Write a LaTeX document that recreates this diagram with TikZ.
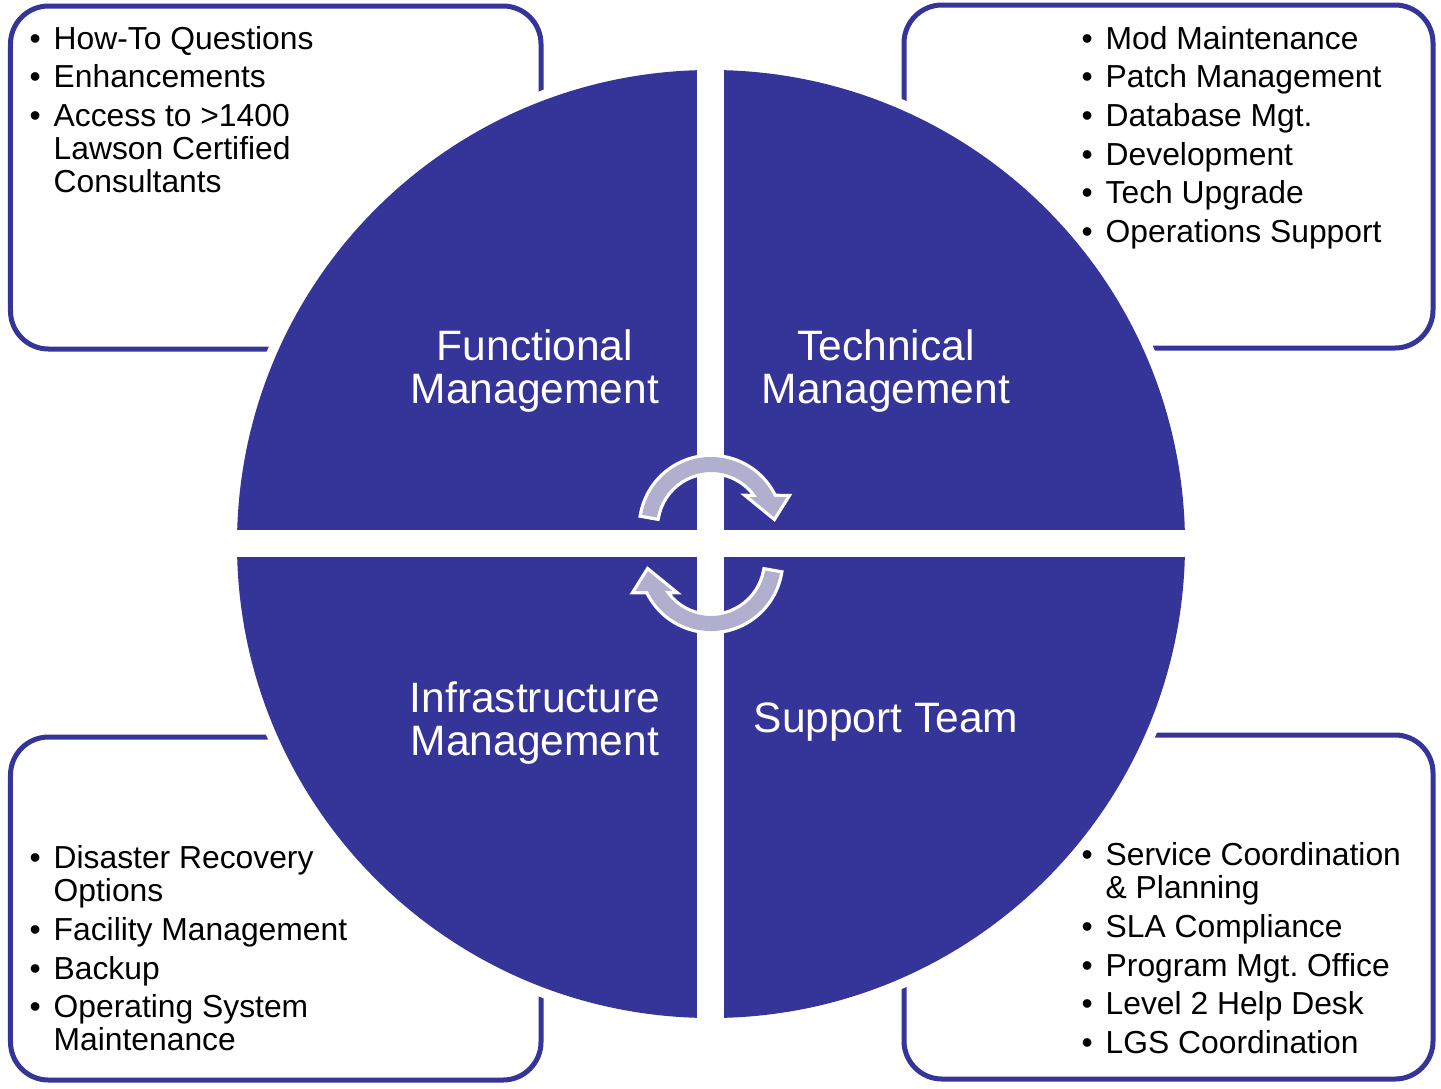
\documentclass[tikz,border=0pt]{standalone}
\usepackage{fontspec}
\setmainfont{Liberation Sans}
\usetikzlibrary{calc}

\definecolor{qblue}{RGB}{52,52,153}
\definecolor{qarrow}{RGB}{176,176,206}

\newcommand{\bl}{\makebox[0.24cm][l]{\textbullet}}
\newcommand{\nb}{\hspace*{0.24cm}}
\frenchspacing

\tikzset{
  listbox/.style={draw=qblue, line width=0.05cm, rounded corners=0.38cm},
  bullets/.style={anchor=north west, inner sep=0pt, align=left,
    font=\fontsize{9.05pt}{9.4pt}\selectfont},
  quadlabel/.style={text=white, inner sep=0pt, align=center,
    font=\fontsize{12.1pt}{12.5pt}\selectfont},
  turn/.style={fill=qarrow, preaction={draw=white, line width=0.065cm}}
}

\begin{document}
\begin{tikzpicture}
  \useasboundingbox (0,0) rectangle (14.41,-10.88);

  % riquadri
  \draw[listbox] (0.105,-0.06) rectangle (5.41,-3.49);
  \draw[listbox] (9.04,-0.05) rectangle (14.33,-3.48);
  \draw[listbox] (0.105,-7.37) rectangle (5.41,-10.80);
  \draw[listbox] (9.04,-7.35) rectangle (14.33,-10.79);

  % disco
  \fill[white] (7.11,-5.44) circle (4.84);
  \fill[qblue] (7.11,-5.44) circle (4.74);

  % bande bianche
  \fill[white] (6.97,-0.4) rectangle (7.24,-10.5);
  \fill[white] (2.2,-5.30) rectangle (12.0,-5.57);

  % quadranti
  \node[quadlabel] (func) at (5.35,-3.71) {Functional\\Management};
  \node[quadlabel] (tech) at (8.86,-3.71) {Technical\\Management};
  \node[quadlabel] (infra) at (5.35,-7.23) {Infrastructure\\Management};
  \node[quadlabel] (supp) at (8.86,-7.22) {Support Team};

  % freccia in alto
  \begin{scope}[shift={(7.11,-5.27)}]
    \path[turn] (170:0.70) arc[start angle=170, end angle=25.4, radius=0.70]
      -- (0.755,0.30) -- (0.63,0.10) -- (0.385,0.30)
      -- (33:0.55) arc[start angle=33, end angle=170, radius=0.55] -- cycle;
  \end{scope}

  % freccia in basso
  \begin{scope}[rotate around={180:(7.11,-5.44)}, shift={(7.11,-5.27)}]
    \path[turn] (170:0.70) arc[start angle=170, end angle=25.4, radius=0.70]
      -- (0.755,0.30) -- (0.63,0.10) -- (0.385,0.30)
      -- (33:0.55) arc[start angle=33, end angle=170, radius=0.55] -- cycle;
  \end{scope}

  % elenchi
  \node[bullets] (funcList) at (0.29,-0.255)
    {\bl How-To Questions\\[1.6pt]
     \bl Enhancements\\[1.6pt]
     \bl Access to >1400\\
     \nb Lawson Certified\\
     \nb Consultants};
  \node[bullets] (techList) at (10.81,-0.255)
    {\bl Mod Maintenance\\[1.6pt]
     \bl Patch Management\\[1.6pt]
     \bl Database Mgt.\\[1.6pt]
     \bl Development\\[1.6pt]
     \bl Tech Upgrade\\[1.6pt]
     \bl Operations Support};
  \node[bullets] (infraList) at (0.29,-8.45)
    {\bl Disaster Recovery\\
     \nb Options\\[1.6pt]
     \bl Facility Management\\[1.6pt]
     \bl Backup\\[1.6pt]
     \bl Operating System\\
     \nb Maintenance};
  \node[bullets] (suppList) at (10.81,-8.42)
    {\bl Service Coordination\\
     \nb \& Planning\\[1.6pt]
     \bl SLA Compliance\\[1.6pt]
     \bl Program Mgt. Office\\[1.6pt]
     \bl Level 2 Help Desk\\[1.6pt]
     \bl LGS Coordination};
\end{tikzpicture}
\end{document}
